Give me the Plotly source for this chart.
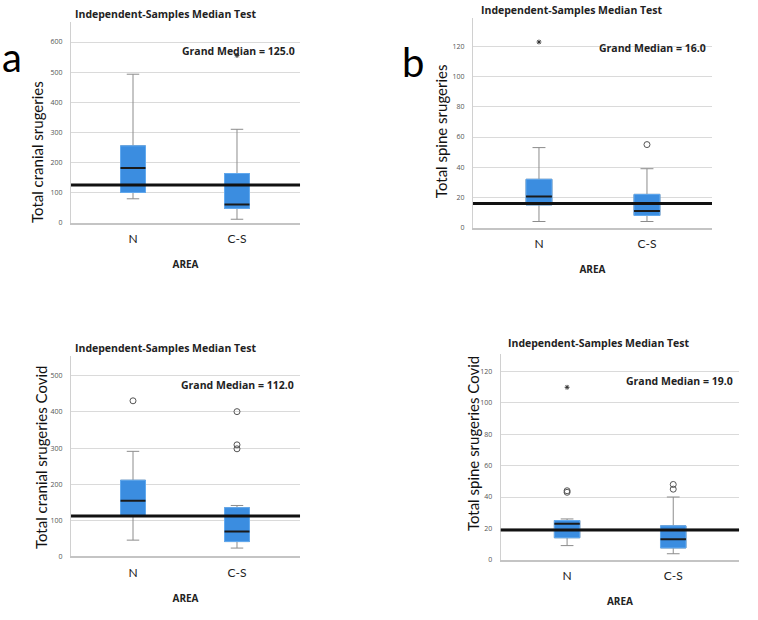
import plotly.graph_objects as go

# ---------------- data ----------------
categories = ["N", "C-S"]

# a) Total cranial surgeries
a_q1 = [100, 47]
a_median = [181, 60]
a_q3 = [255, 163]
a_low = [79, 11]
a_high = [493, 310]
a_circles = [[], []]
a_stars = [[], [555]]
a_grand = 125.0

# b) Total spine surgeries
b_q1 = [15, 8]
b_median = [20.5, 11]
b_q3 = [32, 22]
b_low = [4, 4]
b_high = [53, 39]
b_circles = [[], [55]]
b_stars = [[123], []]
b_grand = 16.0

# c) Total cranial surgeries Covid
c_q1 = [112, 41]
c_median = [154, 69]
c_q3 = [211, 135]
c_low = [45, 23]
c_high = [291, 141]
c_circles = [[431], [401, 309, 298]]
c_stars = [[], []]
c_grand = 112.0

# d) Total spine surgeries Covid
d_q1 = [14, 7.5]
d_median = [23, 13]
d_q3 = [25, 21.6]
d_low = [9, 3.8]
d_high = [26, 40]
d_circles = [[43, 44], [45, 48]]
d_stars = [[110], []]
d_grand = 19.0

panels = [
    dict(q1=a_q1, med=a_median, q3=a_q3, lo=a_low, hi=a_high, circ=a_circles, star=a_stars,
         grand=a_grand, ytitle="Total cranial srugeries", yrange=[0, 667], dtick=100,
         xdom=[0.0937, 0.3958], ydom=[0.6387, 0.9645], xr=[-0.596, 1.606],
         title_xy=(166, 14), ytitle_xy=(37, 153), gm_xy=(297, 51)),
    dict(q1=b_q1, med=b_median, q3=b_q3, lo=b_low, hi=b_high, circ=b_circles, star=b_stars,
         grand=b_grand, ytitle="Total spine srugeries", yrange=[0, 139], dtick=20,
         xdom=[0.624, 0.9393], ydom=[0.6306, 0.971], xr=[-0.611, 1.602],
         title_xy=(572, 10), ytitle_xy=(441, 132), gm_xy=(708, 48)),
    dict(q1=c_q1, med=c_median, q3=c_q3, lo=c_low, hi=c_high, circ=c_circles, star=c_stars,
         grand=c_grand, ytitle="Total cranial srugeries Covid", yrange=[0, 556], dtick=100,
         xdom=[0.0937, 0.3958], ydom=[0.0968, 0.4226], xr=[-0.596, 1.606],
         title_xy=(166, 350), ytitle_xy=(41, 460), gm_xy=(296, 387)),
    dict(q1=d_q1, med=d_median, q3=d_q3, lo=d_low, hi=d_high, circ=d_circles, star=d_stars,
         grand=d_grand, ytitle="Total spine srugeries Covid", yrange=[0, 131], dtick=20,
         xdom=[0.6606, 0.975], ydom=[0.0914, 0.4247], xr=[-0.625, 1.62],
         title_xy=(599, 345), ytitle_xy=(473, 447), gm_xy=(735, 383)),
]

W, H = 758, 620
BLUE = "#3b8de0"
BLUE_EDGE = "#62aaf0"
GRAY = "#8c8c8c"
GRID = "#dadada"
FONT = "Lato"
BOLD = "Open Sans"

fig = go.Figure()
annotations = []
shapes = []

half = 0.12  # half box width (style)

for k, p in enumerate(panels):
    sfx = "" if k == 0 else str(k + 1)
    xa, ya = "x" + sfx, "y" + sfx
    xs = list(range(len(categories)))
    # whiskers (gray)
    fig.add_trace(go.Box(
        x=xs, q1=p["q1"], median=p["med"], q3=p["q3"],
        lowerfence=p["lo"], upperfence=p["hi"],
        width=2 * half, whiskerwidth=0.5,
        line=dict(color=GRAY, width=1), fillcolor=BLUE,
        xaxis=xa, yaxis=ya, showlegend=False, hoverinfo="skip", boxpoints=False,
    ))
    # box body (blue)
    fig.add_trace(go.Box(
        x=xs, q1=p["q1"], median=p["med"], q3=p["q3"],
        lowerfence=p["q1"], upperfence=p["q3"],
        width=2 * half, whiskerwidth=0,
        line=dict(color=BLUE_EDGE, width=1), fillcolor=BLUE,
        xaxis=xa, yaxis=ya, showlegend=False, hoverinfo="skip", boxpoints=False,
    ))
    # median lines
    mx, my = [], []
    for i, m in enumerate(p["med"]):
        mx += [i - half, i + half, None]
        my += [m, m, None]
    fig.add_trace(go.Scatter(x=mx, y=my, mode="lines", line=dict(color="#1a1a1a", width=2),
                             xaxis=xa, yaxis=ya, showlegend=False, hoverinfo="skip"))
    # outliers
    cx, cy, sx, sy = [], [], [], []
    for i in xs:
        for v in p["circ"][i]:
            cx.append(i); cy.append(v)
        for v in p["star"][i]:
            sx.append(i); sy.append(v)
    if cx:
        fig.add_trace(go.Scatter(x=cx, y=cy, mode="markers",
                                 marker=dict(symbol="circle-open", size=6, color="#555555",
                                             line=dict(width=1)),
                                 xaxis=xa, yaxis=ya, showlegend=False, hoverinfo="skip"))
    if sx:
        fig.add_trace(go.Scatter(x=sx, y=sy, mode="markers",
                                 marker=dict(symbol="asterisk-open", size=4, color="#333333",
                                             line=dict(width=1, color="#333333")),
                                 xaxis=xa, yaxis=ya, showlegend=False, hoverinfo="skip"))
    # grand median line
    shapes.append(dict(type="line", xref=xa + " domain", yref=ya, x0=0, x1=1,
                       y0=p["grand"], y1=p["grand"], line=dict(color="#111111", width=3),
                       layer="above"))
    # axes
    fig.update_layout(**{
        "xaxis" + sfx: dict(domain=p["xdom"], range=p["xr"], anchor=ya,
                            tickvals=xs, ticktext=categories, showgrid=False, zeroline=False,
                            showline=True, linecolor="#c4c4c4", linewidth=1.5, ticks="",
                            ticklabelstandoff=4,
                            tickfont=dict(family=FONT, size=12, color="#222"),
                            title=dict(text="<b>AREA</b>", font=dict(family=BOLD, size=10, color="#222"),
                                       standoff=16),
                            fixedrange=True),
        "yaxis" + sfx: dict(domain=p["ydom"], range=p["yrange"], anchor=xa, dtick=p["dtick"],
                            tick0=0, showgrid=True, gridcolor=GRID, gridwidth=1,
                            zeroline=False, showline=True, linecolor="#d0d0d0", linewidth=1,
                            ticks="", ticklabelstandoff=6,
                            tickfont=dict(family=BOLD, size=7, color="#555"),
                            fixedrange=True),
    })
    tx, ty = p["title_xy"]
    annotations.append(dict(text="<b>Independent-Samples Median Test</b>", xref="paper", yref="paper",
                            x=tx / W, y=1 - ty / H, xanchor="center", yanchor="middle",
                            showarrow=False, font=dict(family=BOLD, size=10.5, color="#222")))
    yx, yy = p["ytitle_xy"]
    annotations.append(dict(text=p["ytitle"], xref="paper", yref="paper", textangle=-90,
                            x=yx / W, y=1 - yy / H, xanchor="center", yanchor="middle",
                            showarrow=False, font=dict(family=FONT, size=15, color="#111")))
    gx, gy = p["gm_xy"]
    annotations.append(dict(text="<b>Grand Median = %.1f</b>" % p["grand"], xref="paper", yref="paper",
                            x=gx / W, y=1 - gy / H, xanchor="right", yanchor="middle",
                            showarrow=False, font=dict(family=BOLD, size=10.5, color="#222")))

annotations.append(dict(text="a", xref="paper", yref="paper", x=12 / W, y=1 - 57 / H,
                        xanchor="center", yanchor="middle", showarrow=False,
                        font=dict(family=FONT, size=40, color="#000")))
annotations.append(dict(text="b", xref="paper", yref="paper", x=413 / W, y=1 - 62 / H,
                        xanchor="center", yanchor="middle", showarrow=False,
                        font=dict(family=FONT, size=40, color="#000")))

fig.update_layout(width=W, height=H, margin=dict(l=0, r=0, t=0, b=0),
                  paper_bgcolor="white", plot_bgcolor="white",
                  annotations=annotations, shapes=shapes, boxmode="overlay",
                  showlegend=False)

fig.write_html("out.html", config={"displayModeBar": False},
               post_script="document.body.style.margin='0px';")
